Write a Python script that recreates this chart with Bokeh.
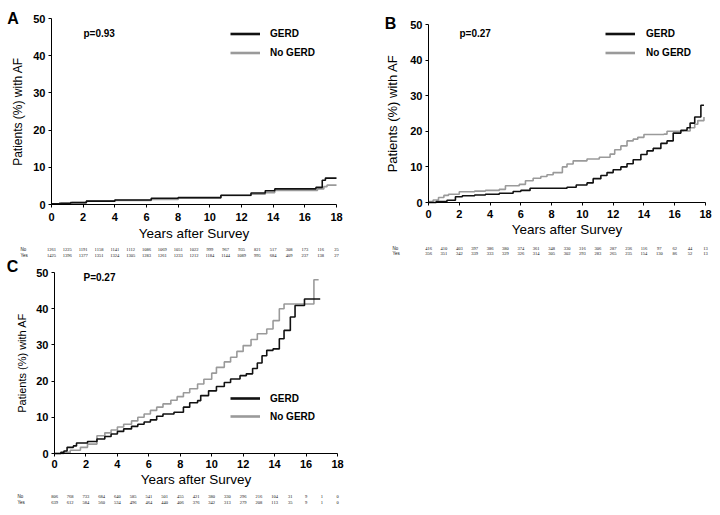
from bokeh.plotting import figure
from bokeh.models import (FixedTicker, Label, LabelSet, ColumnDataSource, Legend, LegendItem, Range1d)
from bokeh.layouts import column, row
from bokeh.embed import file_html
from bokeh.resources import INLINE

BLACK = "#111111"
GRAY = "#9a9a9a"
FONT = "Liberation Sans"

year_ticks = [0, 2, 4, 6, 8, 10, 12, 14, 16, 18]
pct_ticks = [0, 10, 20, 30, 40, 50]
risk_years = list(range(0, 19))

# ---------------- Panel A ----------------
a_gerd_x = [0, 0.5, 1.2, 2.2, 4.0, 6.3, 8.0, 10.7, 12.6, 13.5, 14.1, 16.7, 17.1, 17.3, 18.0]
a_gerd_y = [0.2, 0.35, 0.5, 0.9, 1.2, 1.7, 1.85, 2.5, 3.1, 3.7, 4.2, 4.6, 6.5, 7.1, 7.1]
a_nogerd_x = [0, 0.6, 1.3, 2.2, 4.0, 6.3, 8.0, 10.7, 12.6, 13.5, 14.1, 16.8, 17.2, 17.4, 18.0]
a_nogerd_y = [0.2, 0.35, 0.5, 0.9, 1.1, 1.35, 1.75, 2.4, 2.8, 3.2, 3.8, 4.2, 4.8, 5.2, 5.2]
a_no_risk = [1261, 1225, 1191, 1158, 1141, 1112, 1086, 1069, 1051, 1022, 999, 967, 935, 821, 517, 308, 173, 116, 25]
a_yes_risk = [1425, 1396, 1377, 1351, 1324, 1305, 1283, 1261, 1233, 1212, 1184, 1144, 1089, 995, 684, 409, 237, 138, 27]

# ---------------- Panel B ----------------
b_gerd_x = [0, 0.5, 1.2, 1.75, 2.2, 3.0, 3.7, 4.6, 5.5, 6.0, 6.6, 9.0, 9.6, 10.3, 10.7, 11.2, 11.6, 12.0,
            12.5, 12.9, 13.3, 13.8, 14.2, 14.6, 15.1, 15.5, 15.9, 16.4, 16.8, 17.0, 17.3, 17.7, 17.9]
b_gerd_y = [0, 0.3, 0.65, 1.6, 1.9, 2.1, 2.3, 2.6, 3.1, 3.4, 4.0, 4.3, 4.9, 5.5, 6.7, 7.6, 8.4, 9.2,
            10.0, 10.9, 12.0, 13.5, 14.5, 15.2, 16.6, 17.3, 19.5, 20.3, 21.0, 22.3, 24.0, 27.3, 27.3]
b_nogerd_x = [0, 0.3, 0.65, 1.0, 1.3, 2.0, 3.0, 3.7, 4.6, 5.0, 5.9, 6.3, 6.8, 7.3, 7.7, 8.1, 8.7, 9.0,
              9.4, 10.3, 11.1, 11.8, 12.1, 12.5, 12.9, 13.3, 13.6, 14.0, 15.3, 15.5, 16.6, 17.0, 17.3, 17.5, 17.9]
b_nogerd_y = [0.3, 0.7, 1.4, 2.0, 2.3, 3.0, 3.2, 3.4, 3.7, 4.7, 5.1, 6.1, 6.8, 7.3, 7.8, 8.4, 10.0, 10.8,
              11.7, 12.2, 12.7, 13.6, 14.8, 15.9, 17.3, 17.8, 18.3, 19.1, 19.2, 20.0, 20.1, 21.0, 22.0, 23.0, 24.0]
b_no_risk = [416, 410, 403, 397, 386, 380, 374, 361, 348, 330, 316, 306, 287, 236, 116, 97, 62, 44, 13]
b_yes_risk = [356, 351, 342, 339, 333, 329, 326, 314, 305, 302, 293, 283, 265, 235, 154, 130, 86, 52, 13]

# ---------------- Panel C ----------------
c_gerd_x = [0, 0.4, 0.6, 0.8, 1.2, 1.4, 2.1, 2.7, 3.2, 3.6, 4.0, 4.4, 4.9, 5.3, 5.7, 6.1, 6.5, 6.9, 7.6,
            8.2, 8.6, 9.1, 9.3, 9.8, 10.3, 10.8, 11.2, 11.8, 12.2, 12.6, 12.9, 13.2, 13.5, 13.9, 14.3,
            14.6, 15.0, 15.3, 15.9, 16.9]
c_gerd_y = [0, 0.3, 0.7, 1.7, 2.1, 2.9, 3.3, 4.0, 4.7, 5.4, 6.1, 6.8, 7.5, 8.1, 8.7, 9.3, 10.3, 10.9, 11.4,
            12.8, 14.0, 14.6, 16.0, 17.3, 18.5, 19.6, 20.6, 21.5, 22.0, 23.5, 25.0, 27.0, 28.5, 28.9, 31.7,
            34.0, 37.7, 40.9, 42.7, 42.7]
c_nogerd_x = [0, 0.6, 1.0, 1.65, 2.1, 2.7, 3.2, 3.6, 4.0, 4.4, 4.9, 5.3, 5.7, 6.1, 6.5, 6.9, 7.4, 7.8,
              8.2, 8.6, 9.1, 9.5, 10.0, 10.3, 10.8, 11.2, 11.6, 12.0, 12.5, 12.9, 13.5, 13.9, 14.3,
              14.6, 16.5, 16.8]
c_nogerd_y = [0, 0.3, 0.9, 1.7, 2.6, 4.9, 5.7, 6.5, 7.3, 8.1, 9.0, 10.0, 10.9, 11.9, 12.8, 13.7, 14.7, 15.7,
              16.8, 17.9, 19.2, 20.5, 22.2, 23.8, 25.3, 26.6, 28.2, 29.8, 31.5, 33.1, 34.4, 36.7, 40.0,
              41.3, 48.0, 48.0]
c_no_risk = [806, 768, 733, 684, 640, 585, 541, 501, 455, 421, 380, 330, 296, 216, 104, 31, 9, 1, 0]
c_yes_risk = [639, 612, 584, 560, 534, 496, 464, 440, 406, 376, 342, 313, 279, 208, 113, 35, 9, 1, 0]


def make_panel(cfg):
    W, H = cfg["w"], cfg["h"]
    # pixel anchors of the axes inside the panel (layout only)
    px0, px18, py0, py50 = cfg["ax"]
    sx = (px18 - px0) / 18.0
    sy = (py0 - py50) / 50.0
    xr = Range1d(start=0 - px0 / sx, end=0 + (W - px0) / sx)
    yr = Range1d(start=0 - (H - py0) / sy, end=0 + py0 / sy)
    p = figure(width=W, height=H, x_range=xr, y_range=yr,
               output_backend="svg", toolbar_location=None, min_border=0)
    p.xgrid.visible = False
    p.ygrid.visible = False
    p.outline_line_color = None
    p.background_fill_color = "white"
    p.border_fill_color = "white"
    p.xaxis.ticker = FixedTicker(ticks=year_ticks)
    p.yaxis.ticker = FixedTicker(ticks=pct_ticks)
    p.xaxis.fixed_location = 0
    p.yaxis.fixed_location = 0
    p.xaxis.bounds = (0, 18)
    p.yaxis.bounds = (0, 50)
    p.xaxis.axis_label = "Years after Survey"
    p.yaxis.axis_label = "Patients (%) with AF"
    for ax in (p.xaxis[0], p.yaxis[0]):
        ax.axis_line_color = "black"
        ax.axis_line_width = 1
        ax.major_tick_line_color = "black"
        ax.major_tick_out = 3
        ax.major_tick_in = 0
        ax.minor_tick_line_color = None
        ax.major_label_text_font = FONT
        ax.major_label_text_font_style = "bold"
        ax.major_label_text_font_size = "11px"
        ax.major_label_text_color = "black"
        ax.axis_label_text_font = FONT
        ax.axis_label_text_font_style = "normal"
        ax.axis_label_text_color = "black"
    p.xaxis[0].major_label_standoff = cfg["xls"]
    p.xaxis[0].axis_label_standoff = cfg["xts"]
    p.xaxis[0].axis_label_text_font_size = "13.5px"
    p.yaxis[0].major_label_standoff = 3
    p.yaxis[0].axis_label_standoff = cfg["yts"]
    p.yaxis[0].axis_label_text_font_size = cfg["ylab_size"]

    p.step(x=cfg["nx"], y=cfg["ny"], mode="after", line_color=GRAY, line_width=1.6)
    p.step(x=cfg["gx"], y=cfg["gy"], mode="after", line_color=BLACK, line_width=1.6)

    # single-point lines: invisible in the plot, used only for legend swatches
    r1 = p.line(x=cfg["gx"][:1], y=cfg["gy"][:1], line_color=BLACK, line_width=2.6)
    r2 = p.line(x=cfg["nx"][:1], y=cfg["ny"][:1], line_color=GRAY, line_width=2.6)
    leg = Legend(items=[LegendItem(label="GERD", renderers=[r1]),
                        LegendItem(label="No GERD", renderers=[r2])],
                 location=cfg["leg"], orientation="vertical", padding=0, margin=0, spacing=0,
                 glyph_width=30, glyph_height=cfg["lrow"], label_height=cfg["lrow"],
                 label_standoff=cfg["lstand"],
                 border_line_color=None, background_fill_alpha=0,
                 label_text_font=FONT, label_text_font_style="bold", label_text_font_size="10px",
                 label_text_color="black")
    p.add_layout(leg)

    lx, ly = cfg["letter_pos"]
    p.add_layout(Label(text=cfg["letter"], x=lx, y=H - ly, x_units="screen", y_units="screen",
                       text_font=FONT, text_font_style="bold", text_font_size="16px",
                       text_align="center", text_baseline="middle", text_color="black"))
    vx, vy = cfg["pval_pos"]
    p.add_layout(Label(text=cfg["pval"], x=vx, y=H - vy, x_units="screen", y_units="screen",
                       text_font=FONT, text_font_style="bold", text_font_size="10px",
                       text_align="left", text_baseline="middle", text_color="black"))

    src = ColumnDataSource(data=dict(x=risk_years, no=[str(v) for v in cfg["no"]],
                                     yes=[str(v) for v in cfg["yes"]]))
    for col, name, yy in (("no", "No", cfg["ry"][0]), ("yes", "Yes", cfg["ry"][1])):
        p.add_layout(LabelSet(x="x", y=H - yy, y_units="screen", text=col, source=src,
                              text_font=FONT, text_font_size="4.5px", text_color="#111111",
                              text_align="center", text_baseline="middle"))
        p.add_layout(Label(text=name, x=cfg["rlx"], y=H - yy, x_units="screen", y_units="screen",
                           text_font=FONT, text_font_size="4.5px", text_color="#111111",
                           text_align="left", text_baseline="middle"))
    return p


pA = make_panel(dict(w=360, h=258, ax=(51, 336, 204, 18), xls=5, xts=2, yts=5, ylab_size="12px",
                     gx=a_gerd_x, gy=a_gerd_y, nx=a_nogerd_x, ny=a_nogerd_y,
                     leg=(230, 196.5), lrow=19, lstand=10, letter="A", letter_pos=(12.5, 18),
                     pval="p=0.93", pval_pos=(83, 33), no=a_no_risk, yes=a_yes_risk,
                     ry=(249, 254.5), rlx=20))
pB = make_panel(dict(w=360, h=258, ax=(68, 345, 202, 24), xls=4, xts=1, yts=7, ylab_size="13px",
                     gx=b_gerd_x, gy=b_gerd_y, nx=b_nogerd_x, ny=b_nogerd_y,
                     leg=(245, 196.5), lrow=19, lstand=11, letter="B", letter_pos=(30, 23),
                     pval="p=0.27", pval_pos=(99, 33), no=b_no_risk, yes=b_yes_risk,
                     ry=(247.5, 252.5), rlx=32))
pC = make_panel(dict(w=360, h=257, ax=(54, 337, 195, 14), xls=3, xts=1, yts=5, ylab_size="11px",
                     gx=c_gerd_x, gy=c_gerd_y, nx=c_nogerd_x, ny=c_nogerd_y,
                     leg=(230, 89.7), lrow=18, lstand=10, letter="C", letter_pos=(12, 8),
                     pval="P=0.27", pval_pos=(83, 19), no=c_no_risk, yes=c_yes_risk,
                     ry=(238, 244), rlx=17))

layout = column(row(pA, pB, spacing=0), row(pC, spacing=0), spacing=0)

with open("out.html", "w") as f:
    f.write(file_html(layout, INLINE))
